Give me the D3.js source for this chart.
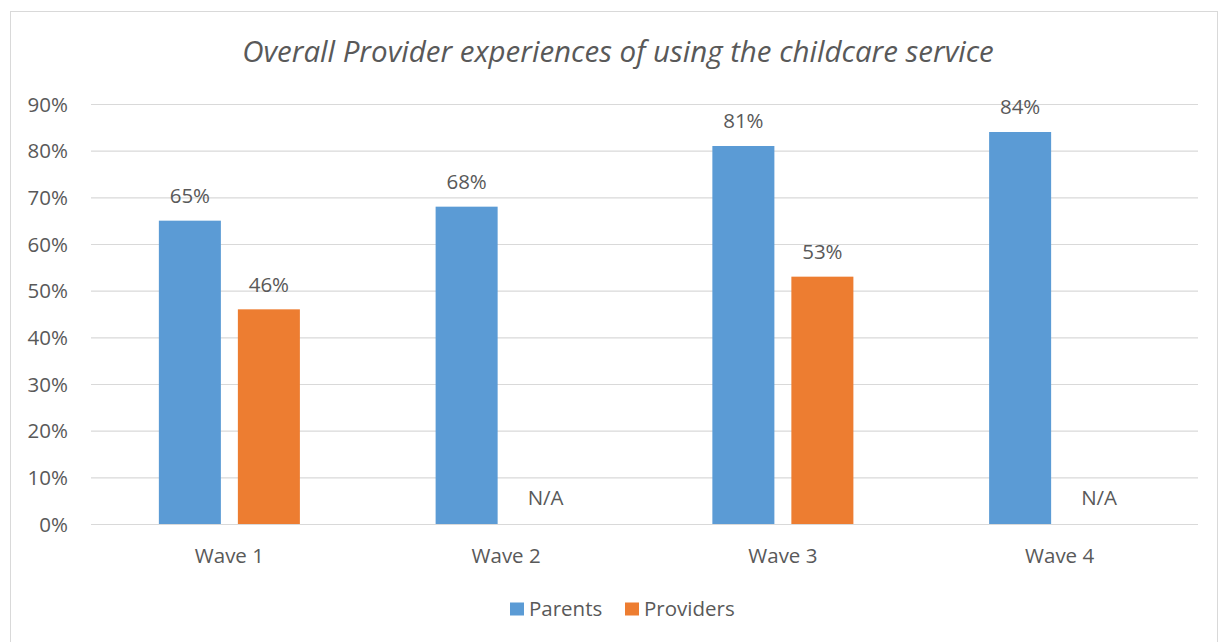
<!DOCTYPE html>
<html>
<head>
<meta charset="utf-8">
<script src="https://cdn.jsdelivr.net/npm/d3@7"></script>
<style>
  html, body { margin: 0; padding: 0; background: #fff; }
  svg { display: block; }
  text { font-family: "Open Sans", "Liberation Sans", sans-serif; fill: #595959; }
</style>
</head>
<body>
<svg id="chart" width="1223" height="642"></svg>
<script>
// Chart data
const categories = ["Wave 1", "Wave 2", "Wave 3", "Wave 4"];
const seriesNames = ["Parents", "Providers"];
const parents = [65, 68, 81, 84];
const providers = [46, null, 53, null];
const yTicks = [0, 10, 20, 30, 40, 50, 60, 70, 80, 90];
const colors = ["#5B9BD5", "#ED7D31"];
const titleText = "Overall Provider experiences of using the childcare service";

const svg = d3.select("#chart");
const W = 1223, H = 642;
const margin = { left: 91, right: 25, top: 104, bottom: 118 };
const labelSize = 20.5;

// Outer frame
svg.append("rect")
  .attr("x", 10.5).attr("y", 11.5)
  .attr("width", W - 16).attr("height", H)
  .attr("fill", "#fff").attr("stroke", "#d9d9d9").attr("stroke-width", 1);

const x0 = d3.scaleBand()
  .domain(categories)
  .range([margin.left, W - margin.right]);

const x1 = d3.scaleBand()
  .domain(seriesNames)
  .range([0, x0.bandwidth()])
  .paddingInner(0.215)
  .paddingOuter(0.859);

const y = d3.scaleLinear()
  .domain([0, 90])
  .range([H - margin.bottom, margin.top]);

// Gridlines
svg.append("g")
  .selectAll("line")
  .data(yTicks)
  .join("line")
  .attr("x1", margin.left).attr("x2", W - margin.right)
  .attr("y1", d => y(d) + 0.5).attr("y2", d => y(d) + 0.5)
  .attr("stroke", "#d9d9d9").attr("stroke-width", 1.2);

// Y axis labels
const yAxis = d3.axisLeft(y).tickValues(yTicks).tickFormat(d => d + "%").tickSize(0).tickPadding(0);
const yg = svg.append("g").attr("transform", `translate(${margin.left - 23},0)`).call(yAxis);
yg.select(".domain").remove();
yg.selectAll("text")
  .attr("font-size", labelSize)
  .attr("dy", "0.35em")
  .style("font-family", "\"Open Sans\", \"Liberation Sans\", sans-serif")
  .attr("fill", "#595959");

// X axis labels
const xAxis = d3.axisBottom(x0).tickSize(0).tickPadding(0);
const xg = svg.append("g").attr("transform", `translate(0,${y(0) + 32})`).call(xAxis);
xg.select(".domain").remove();
xg.selectAll("text")
  .attr("font-size", labelSize)
  .attr("dy", "0.35em")
  .attr("y", 0)
  .style("font-family", "\"Open Sans\", \"Liberation Sans\", sans-serif")
  .attr("fill", "#595959");

// Bars
const rows = categories.map((c, i) => ({ cat: c, vals: [parents[i], providers[i]] }));
const groups = svg.append("g").selectAll("g")
  .data(rows)
  .join("g")
  .attr("transform", d => `translate(${x0(d.cat)},0)`);

groups.selectAll("rect")
  .data(d => d.vals.map((v, j) => ({ s: seriesNames[j], v, j })).filter(e => e.v !== null))
  .join("rect")
  .attr("x", d => x1(d.s))
  .attr("width", x1.bandwidth())
  .attr("y", d => y(d.v))
  .attr("height", d => y(0) - y(d.v))
  .attr("fill", d => colors[d.j]);

// Value labels (N/A where no value)
groups.selectAll("text.val")
  .data(d => d.vals.map((v, j) => ({ s: seriesNames[j], v, j })))
  .join("text")
  .attr("class", "val")
  .attr("x", d => x1(d.s) + x1.bandwidth() / 2)
  .attr("y", d => d.v === null ? y(0) - 26 : y(d.v) - 25)
  .attr("dy", "0.35em")
  .attr("text-anchor", "middle")
  .attr("font-size", labelSize)
  .text(d => d.v === null ? "N/A" : d.v + "%");

// Title
svg.append("text")
  .attr("x", 618).attr("y", 52)
  .attr("dy", "0.35em")
  .attr("text-anchor", "middle")
  .attr("font-size", 29.5)
  .attr("font-style", "italic")
  .text(titleText);

// Legend
const legendItems = [
  { name: "Parents", x: 510 },
  { name: "Providers", x: 625 }
];
const lg = svg.append("g").selectAll("g")
  .data(legendItems)
  .join("g")
  .attr("transform", d => `translate(${d.x},609)`);
lg.append("rect")
  .attr("x", 0).attr("y", -6.5).attr("width", 14).attr("height", 13)
  .attr("fill", (d, i) => colors[i]);
lg.append("text")
  .attr("x", 19).attr("y", 0).attr("dy", "0.35em")
  .attr("font-size", labelSize)
  .text(d => d.name);
</script>
</body>
</html>
